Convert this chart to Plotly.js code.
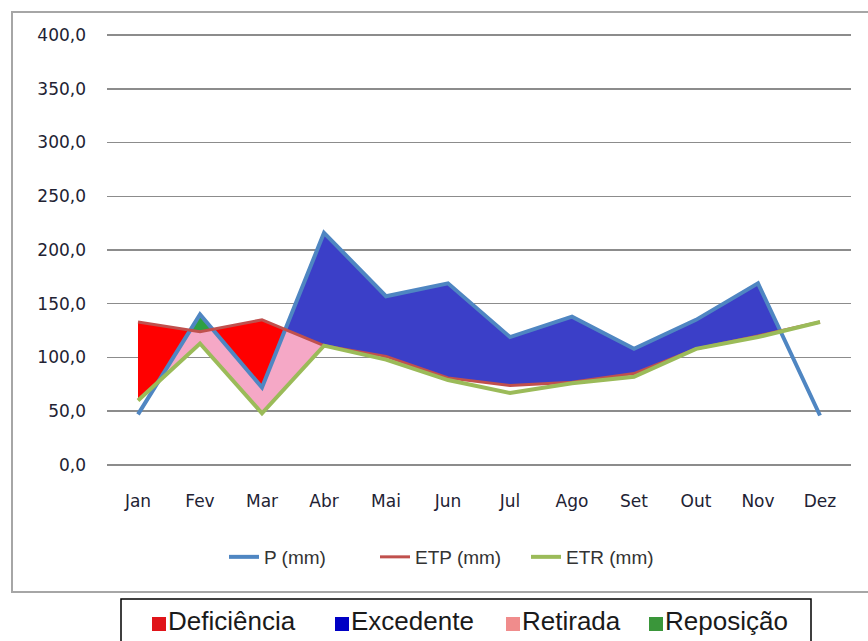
<!DOCTYPE html>
<html>
<head>
<meta charset="utf-8">
<script src="https://cdn.plot.ly/plotly-3.0.1.min.js"></script>
<style>
  html, body { margin: 0; padding: 0; background: #ffffff; }
  #chart { width: 868px; height: 641px; }
</style>
</head>
<body>
<div id="chart"></div>
<script>
// Balanço hídrico mensal (mm)
const months = ['Jan', 'Fev', 'Mar', 'Abr', 'Mai', 'Jun', 'Jul', 'Ago', 'Set', 'Out', 'Nov', 'Dez'];
const P   = [47, 140, 72, 216, 157, 169, 119, 138, 108, 135, 169, 46];
const ETP = [133, 124, 135, 111, 101, 81, 74, 77, 85, 108, 120, 133];
const ETR = [60, 113, 48, 111, 98, 79, 67, 76, 82, 108, 119, 133];

// Month spans over which each balance component is shaded
const spanDeficiencia = ['Jan', 'Abr'];
const spanExcedente   = ['Mar', 'Dez'];
const spanRetirada    = ['Jan', 'Abr'];
const spanReposicao   = ['Jan', 'Mar'];

const yTicks = [0, 50, 100, 150, 200, 250, 300, 350, 400];

const SANS = '"Liberation Sans", Arial, sans-serif';
const TICKFONT = '"DejaVu Sans", Tahoma, sans-serif';

// Linear interpolation of a monthly series at a fractional month index
function at(arr, x) {
  const i = Math.min(Math.floor(x), arr.length - 2);
  const t = x - i;
  return arr[i] + t * (arr[i + 1] - arr[i]);
}

// All month indices plus every crossing of two series in between
function breakpoints() {
  const xs = [];
  const series = [P, ETP, ETR];
  for (let i = 0; i < months.length; i++) {
    xs.push(i);
    if (i === months.length - 1) break;
    const ts = [];
    for (let a = 0; a < series.length; a++) {
      for (let b = a + 1; b < series.length; b++) {
        const d0 = series[a][i] - series[b][i];
        const d1 = series[a][i + 1] - series[b][i + 1];
        if (d0 * d1 < 0) ts.push(d0 / (d0 - d1));
      }
    }
    ts.sort((u, v) => u - v).forEach(t => xs.push(i + t));
  }
  return xs;
}
const XS = breakpoints();

// Shaded band between lower(x) and upper(x) wherever upper lies above lower
function band(name, span, upper, lower, color) {
  const a = months.indexOf(span[0]);
  const b = months.indexOf(span[1]);
  const xs = XS.filter(x => x >= a && x <= b);
  const lo = xs.map(lower);
  const hi = xs.map((x, k) => Math.max(upper(x), lo[k]));
  return [
    { x: xs, y: lo, type: 'scatter', mode: 'lines', line: { width: 0 },
      showlegend: false, hoverinfo: 'skip', name: name + ' base' },
    { x: xs, y: hi, type: 'scatter', mode: 'lines', fill: 'tonexty',
      fillcolor: color, line: { width: 0 }, showlegend: false,
      hoverinfo: 'skip', name: name }
  ];
}

const idx = months.map((m, i) => i);

const traces = [].concat(
  band('Retirada', spanRetirada,
       x => Math.min(at(P, x), at(ETP, x)), x => at(ETR, x), '#f5a8c6'),
  band('Deficiência', spanDeficiencia,
       x => at(ETP, x), x => Math.max(at(P, x), at(ETR, x)), '#ff0000'),
  band('Excedente', spanExcedente,
       x => at(P, x), x => at(ETP, x), '#3b3fc8'),
  band('Reposição', spanReposicao,
       x => at(P, x), x => at(ETP, x), '#2ea043'),
  [
    { x: idx, y: P, type: 'scatter', mode: 'lines',
      name: 'P (mm)', line: { color: '#4f86c2', width: 4 } },
    { x: idx, y: ETP, type: 'scatter', mode: 'lines',
      name: 'ETP (mm)', line: { color: '#c0504d', width: 3 } },
    { x: idx, y: ETR, type: 'scatter', mode: 'lines',
      name: 'ETR (mm)', line: { color: '#9bbb59', width: 4 } }
  ]
);

// Lower legend: shaded components (swatch left edge in px)
const balanceLabels = ['Deficiência', 'Excedente', 'Retirada', 'Reposição'];
const balanceColors = ['#e0141a', '#0000c4', '#f08c8c', '#3a963a'];
const balanceX      = [152, 335, 506, 649];

const L = 107, R = 17, T = 34, B = 175, W = 868, H = 641;
const pw = W - L - R, ph = H - T - B;
const px2x = v => (v - L) / pw;
const py2y = v => (H - B - v) / ph;

const annotations = balanceLabels.map((lab, i) => ({
  xref: 'paper', yref: 'paper',
  x: px2x(balanceX[i] + 14), y: py2y(621), xanchor: 'left', yanchor: 'middle',
  showarrow: false,
  text: lab,
  font: { family: SANS, size: 26, color: '#1a1a1a' }
}));

const swatches = balanceLabels.map((lab, i) => ({
  type: 'rect', xref: 'paper', yref: 'paper', layer: 'above',
  x0: px2x(balanceX[i]), x1: px2x(balanceX[i] + 14),
  y0: py2y(631), y1: py2y(617),
  line: { width: 0 }, fillcolor: balanceColors[i]
}));

const layout = {
  width: W, height: H,
  margin: { l: L, r: R, t: T, b: B },
  paper_bgcolor: '#ffffff',
  plot_bgcolor: '#ffffff',
  showlegend: true,
  xaxis: {
    range: [-0.5, 11.5],
    tickvals: idx,
    ticktext: months,
    showgrid: false, zeroline: false, showline: false, ticks: '',
    ticklabelstandoff: 23,
    tickfont: { family: TICKFONT, size: 17, color: '#222233' },
    fixedrange: true
  },
  yaxis: {
    range: [-1, 401],
    tickvals: yTicks,
    ticktext: yTicks.map(v => v.toFixed(1).replace('.', ',')),
    showgrid: true, gridcolor: '#8c8c8c', gridwidth: 1.5,
    zeroline: false, showline: false, ticks: '',
    ticklabelstandoff: 20,
    tickfont: { family: TICKFONT, size: 17, color: '#222233' },
    fixedrange: true
  },
  legend: {
    orientation: 'h',
    traceorder: 'normal',
    entrywidth: 106, entrywidthmode: 'pixels',
    x: px2x(224), xanchor: 'left',
    y: py2y(557), yanchor: 'middle',
    font: { family: SANS, size: 19, color: '#333333' },
    bgcolor: 'rgba(0,0,0,0)'
  },
  shapes: [
    { type: 'rect', xref: 'paper', yref: 'paper', layer: 'below',
      x0: px2x(12), x1: px2x(890), y0: py2y(592), y1: py2y(12),
      line: { color: '#a6a6a6', width: 2 }, fillcolor: 'rgba(0,0,0,0)' },
    { type: 'rect', xref: 'paper', yref: 'paper', layer: 'above',
      x0: px2x(121), x1: px2x(811), y0: py2y(660), y1: py2y(599),
      line: { color: '#000000', width: 1.5 }, fillcolor: 'rgba(0,0,0,0)' }
  ].concat(swatches),
  annotations: annotations
};

Plotly.newPlot('chart', traces, layout, { displayModeBar: false, staticPlot: true });
</script>
</body>
</html>
